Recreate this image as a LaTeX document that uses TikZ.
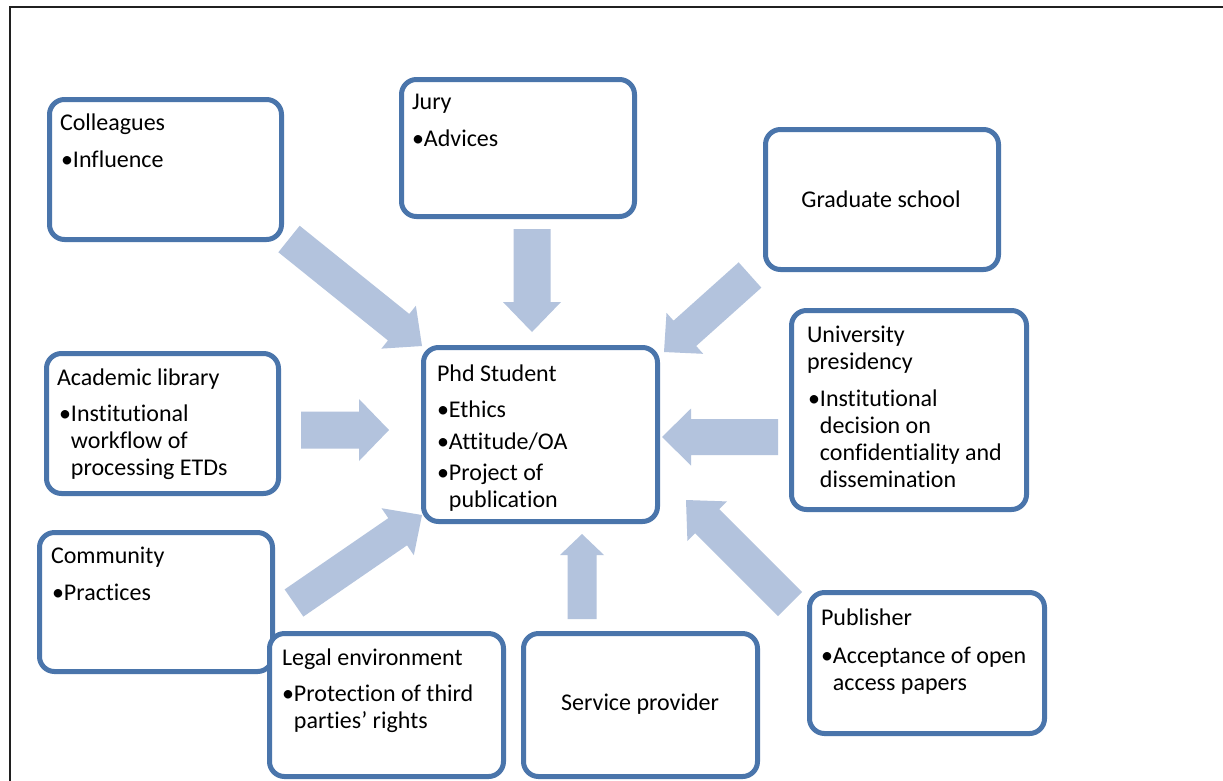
\documentclass[tikz,border=0pt]{standalone}
\usepackage{fontspec}
\setmainfont{Carlito}[Ligatures=NoCommon]
\usetikzlibrary{calc}
\definecolor{boxblue}{HTML}{4A75AB}
\definecolor{arrowfill}{HTML}{B3C3DD}
\definecolor{framegray}{HTML}{202020}
% #1 prefix, #2 tail, #3 tip, #4 half shaft, #5 half head, #6 head length
\newcommand\blockarrow[6]{%
  \coordinate (#1h) at ($(#3)!#6!(#2)$);
  \fill[arrowfill] ($(#2)!#4!90:(#3)$) -- ($(#1h)!#4!90:(#3)$) -- ($(#1h)!#5!90:(#3)$)
    -- (#3) -- ($(#1h)!#5!-90:(#3)$) -- ($(#1h)!#4!-90:(#3)$) -- ($(#2)!#4!-90:(#3)$) -- cycle;
}
\tikzset{
  box/.style={draw=boxblue, line width=5pt, fill=white, rounded corners=15pt, outer sep=0pt, inner sep=0pt},
  txt/.style={anchor=north west, inner sep=0pt, outer sep=0pt, align=left, font=\fontsize{24}{27}\selectfont},
  ctxt/.style={anchor=base, inner sep=0pt, outer sep=0pt, font=\fontsize{24}{27}\selectfont},
}
\begin{document}
\begin{tikzpicture}[x=1pt,y=-1pt]
\useasboundingbox (0,0) rectangle (1223,780);
\fill[white] (0,0) rectangle (1223,780);
\draw[framegray, line width=1.6pt] (10,781) -- (10,7) -- (1224,7);

% arrows
\coordinate (aJt) at (532,229); \coordinate (aJp) at (532,332);
\coordinate (aAt) at (301,430); \coordinate (aAp) at (389,430);
\coordinate (aUt) at (778,437); \coordinate (aUp) at (662,437);
\coordinate (aSt) at (582,619); \coordinate (aSp) at (582,534);
\coordinate (aCt) at (289,239); \coordinate (aCp) at (422,346);
\coordinate (aGt) at (750,275); \coordinate (aGp) at (664,352);
\coordinate (aMt) at (294,603); \coordinate (aMp) at (422,515);
\coordinate (aPt) at (790,604); \coordinate (aPp) at (686,500);
\blockarrow{J}{aJt}{aJp}{18.5pt}{29pt}{30pt}
\blockarrow{A}{aAt}{aAp}{18.5pt}{31pt}{30pt}
\blockarrow{U}{aUt}{aUp}{18pt}{28.5pt}{29pt}
\blockarrow{S}{aSt}{aSp}{14.5pt}{22pt}{21pt}
\blockarrow{C}{aCt}{aCp}{17pt}{27.5pt}{30pt}
\blockarrow{G}{aGt}{aGp}{17pt}{27.5pt}{28pt}
\blockarrow{M}{aMt}{aMp}{16.5pt}{28.5pt}{29.5pt}
\blockarrow{P}{aPt}{aPp}{17pt}{28pt}{30pt}

% boxes
\node[box, minimum width=232pt, minimum height=140pt] (colleagues) at (165.5,169.5) {};
\node[box, minimum width=233pt, minimum height=137pt] (jury) at (518,148) {};
\node[box, minimum width=233pt, minimum height=140pt] (grad) at (882,199.5) {};
\node[box, minimum width=235pt, minimum height=199pt] (univ) at (909,410) {};
\node[box, minimum width=232pt, minimum height=140pt] (library) at (162.5,423.5) {};
\node[box, minimum width=234pt, minimum height=174pt] (phd) at (540.5,434.5) {};
\node[box, minimum width=233pt, minimum height=139pt] (community) at (156,602) {};
\node[box, minimum width=234pt, minimum height=143pt] (legal) at (386.5,705) {};
\node[box, minimum width=234pt, minimum height=143pt] (service) at (640.5,705) {};
\node[box, minimum width=235pt, minimum height=141pt] (publisher) at (927,663) {};

% texts
\node[txt] (tCol1) at (60,111.1) {\strut Colleagues};
\node[txt] (tCol2) at (61,148.1) {\strut •Influence};
\node[txt] (tJur1) at (412,90.1) {\strut Jury};
\node[txt] (tJur2) at (412,127.1) {\strut •Advices};
\node[ctxt] (tGra) at (881,207) {Graduate school};
\node[txt] (tUni1) at (807,323.1) {\strut University\\presidency};
\node[txt] (tUni2) at (808,387.1) {\strut •Institutional\\\phantom{•}decision on\\\phantom{•}confidentiality and\\\phantom{•}dissemination};
\node[txt] (tLib1) at (57,366.1) {\strut Academic library};
\node[txt] (tLib2) at (59,402.1) {\strut •Institutional\\\phantom{•}workflow of\\\phantom{•}processing ETDs};
\node[txt] (tPhd1) at (437,362.1) {\strut Phd Student};
\node[txt] (tPhd2) at (437,398.1) {\strut •Ethics};
\node[txt] (tPhd3) at (437,430.1) {\strut •Attitude/OA};
\node[txt] (tPhd4) at (437,461.1) {\strut •Project of\\\phantom{•}publication};
\node[txt] (tCom1) at (51,544.1) {\strut Community};
\node[txt] (tCom2) at (52,581.1) {\strut •Practices};
\node[txt] (tLeg1) at (282,646.1) {\strut Legal environment};
\node[txt] (tLeg2) at (282,682.1) {\strut •Protection of third\\\phantom{•}parties’ rights};
\node[ctxt] (tSer) at (640,710) {Service provider};
\node[txt] (tPub1) at (821,606.1) {\strut Publisher};
\node[txt] (tPub2) at (821,644.1) {\strut •Acceptance of open\\\phantom{•}access papers};
\end{tikzpicture}
\end{document}
